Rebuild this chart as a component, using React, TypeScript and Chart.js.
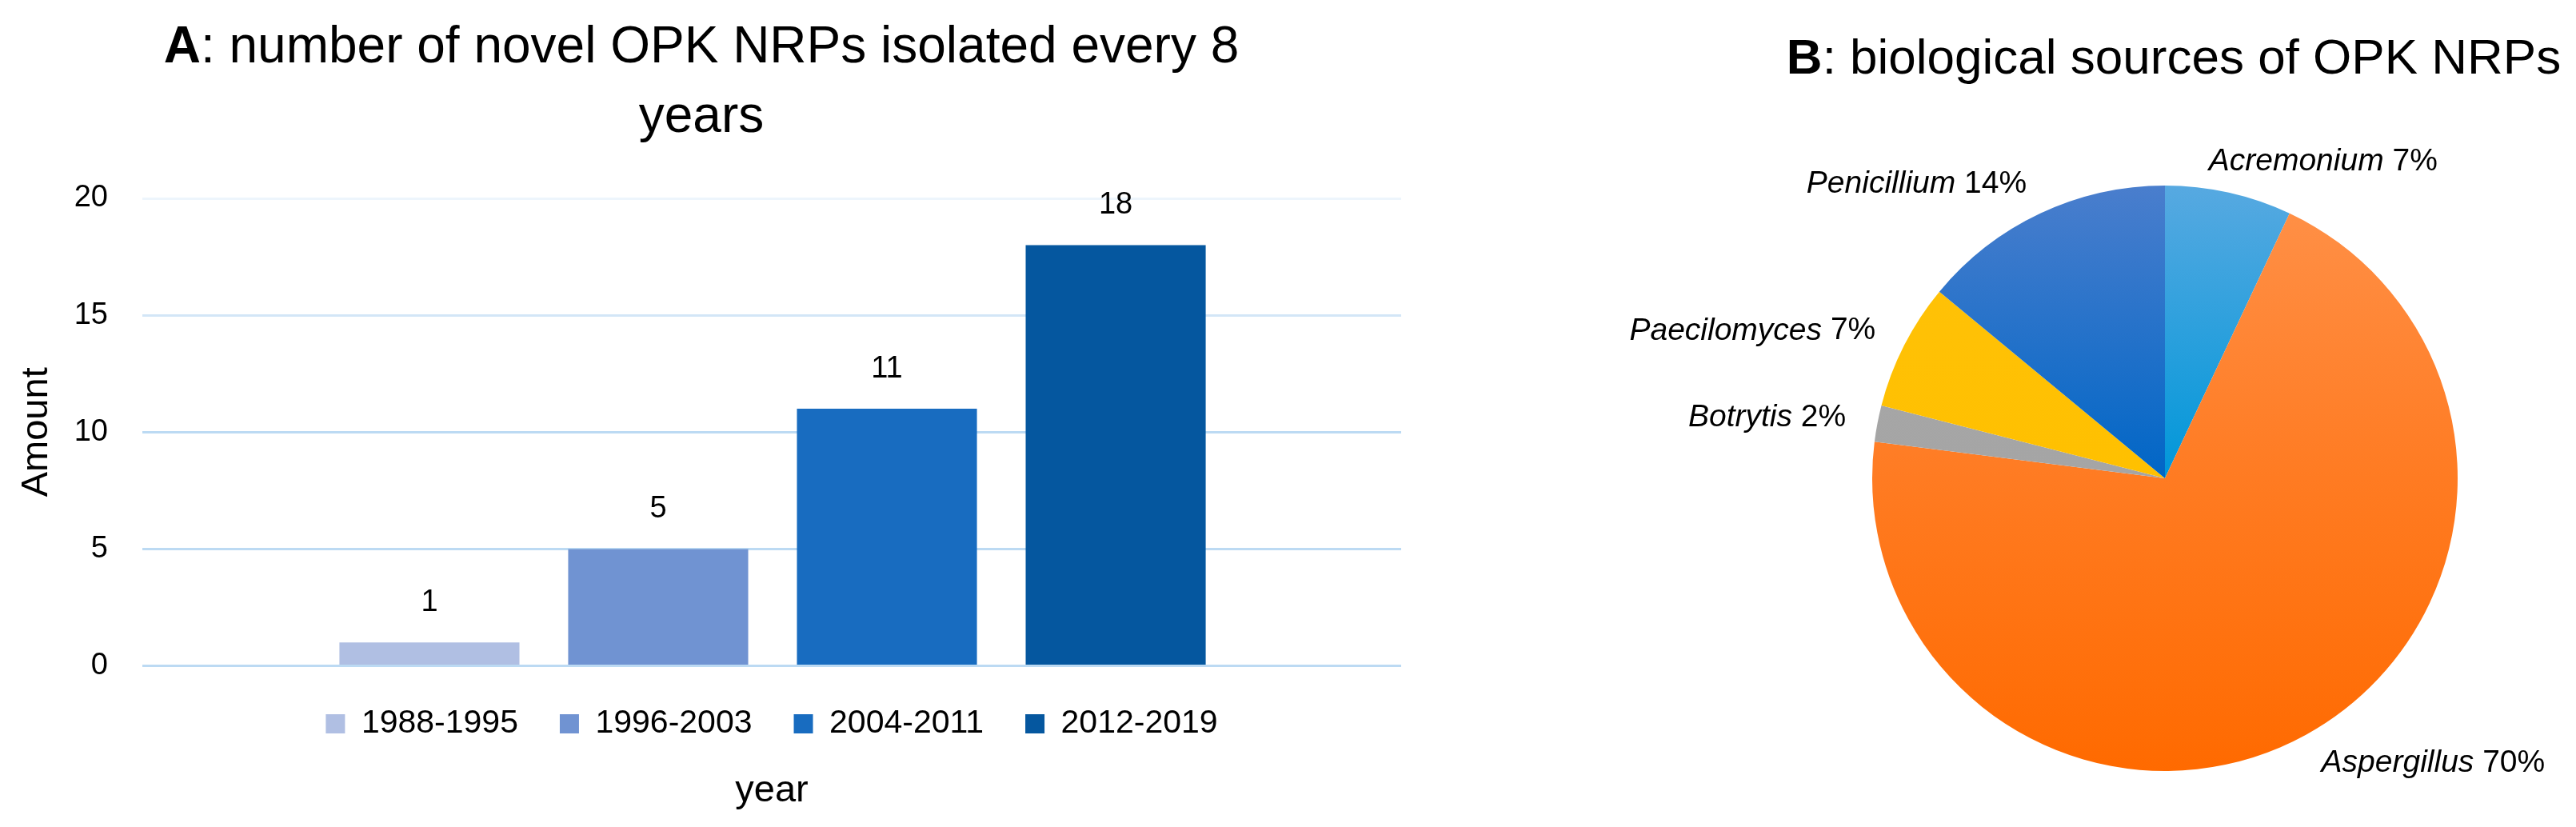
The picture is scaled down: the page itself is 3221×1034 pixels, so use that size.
import React, { useEffect, useRef } from 'react';
import { Chart, registerables } from 'chart.js';

Chart.register(...registerables);

// ---------- Panel A data ----------
const periodLabels = ['1988-1995', '1996-2003', '2004-2011', '2012-2019'];
const periodCounts = [1, 5, 11, 18];
const periodSlots = [1, 2, 3, 4];
const amountTicks = [0, 5, 10, 15, 20];
const periodColors = ['#B0BFE3', '#7093D2', '#186CC0', '#05579F'];

// ---------- Panel B data ----------
const sourceNames = ['Acremonium', 'Aspergillus', 'Botrytis', 'Paecilomyces', 'Penicillium'];
const sourcePercents = [7, 70, 2, 7, 14];
const sourceColorTop = ['#57A9E1', '#FF9149', '#A8A8A8', '#FFC20A', '#4A7ECD'];
const sourceColorMid = ['#0097D9', '#FF7B22', '#A5A5A5', '#FFC000', '#0066C6'];
const sourceColorBottom = ['#0097D9', '#FF6A00', '#A3A3A3', '#FFBE00', '#0066C6'];

// ---------- Titles ----------
type Seg = { text: string; bold?: boolean };
const titleA: Seg[][] = [
  [{ text: 'A', bold: true }, { text: ': number of novel OPK NRPs isolated every 8' }],
  [{ text: 'years' }],
];
const titleB: Seg[][] = [[{ text: 'B', bold: true }, { text: ': biological sources of OPK NRPs' }]];

const FONT = "'Liberation Sans', Arial, sans-serif";

function richTitle(lines: Seg[][], size: number, firstBaseline: number, lineGap: number, centerOn: 'canvas' | 'area', dx = 0) {
  return {
    id: 'richTitle',
    afterDraw(chart: any) {
      const { ctx, chartArea } = chart;
      const cx = (centerOn === 'area' ? (chartArea.left + chartArea.right) / 2 : chart.width / 2) + dx;
      ctx.save();
      ctx.fillStyle = '#000';
      ctx.textBaseline = 'alphabetic';
      ctx.textAlign = 'left';
      lines.forEach((segs, li) => {
        const fonts = segs.map((s) => `${s.bold ? 'bold ' : ''}${size}px ${FONT}`);
        const widths = segs.map((s, i) => {
          ctx.font = fonts[i];
          return ctx.measureText(s.text).width;
        });
        let x = cx - widths.reduce((a, b) => a + b, 0) / 2;
        const y = firstBaseline + li * lineGap;
        segs.forEach((s, i) => {
          ctx.font = fonts[i];
          ctx.fillText(s.text, x, y);
          x += widths[i];
        });
      });
      ctx.restore();
    },
  };
}

const barValueLabels = {
  id: 'barValueLabels',
  afterDatasetsDraw(chart: any) {
    const { ctx } = chart;
    ctx.save();
    ctx.font = `38px ${FONT}`;
    ctx.fillStyle = '#000';
    ctx.textAlign = 'center';
    ctx.textBaseline = 'middle';
    chart.data.datasets.forEach((ds: any, di: number) => {
      const meta = chart.getDatasetMeta(di);
      meta.data.forEach((el: any, i: number) => {
        const v = ds.data[i].y;
        const { x, y } = el.getProps(['x', 'y'], true);
        ctx.fillText(String(v), x, y - 50);
      });
    });
    ctx.restore();
  },
};

const pieLabels = {
  id: 'pieLabels',
  afterDatasetsDraw(chart: any) {
    const { ctx } = chart;
    const meta = chart.getDatasetMeta(0);
    ctx.save();
    ctx.fillStyle = '#000';
    ctx.textBaseline = 'middle';
    ctx.textAlign = 'left';
    meta.data.forEach((arc: any, i: number) => {
      const { x, y, startAngle, endAngle, outerRadius } = arc.getProps(
        ['x', 'y', 'startAngle', 'endAngle', 'outerRadius'],
        true
      );
      const mid = (startAngle + endAngle) / 2;
      const r = outerRadius + 40;
      const ax = x + Math.cos(mid) * r;
      const ay = y + Math.sin(mid) * r;
      const name = sourceNames[i];
      const pct = ' ' + chart.data.datasets[0].data[i] + '%';
      const fItal = `italic 39px ${FONT}`;
      const fReg = `39px ${FONT}`;
      ctx.font = fItal;
      const w1 = ctx.measureText(name).width;
      ctx.font = fReg;
      const w2 = ctx.measureText(pct).width;
      const c = Math.max(-1, Math.min(1, Math.cos(mid) * 3.5));
      const sx = ax - ((w1 + w2) * (1 - c)) / 2;
      ctx.font = fItal;
      ctx.fillText(name, sx, ay);
      ctx.font = fReg;
      ctx.fillText(pct, sx + w1, ay);
    });
    ctx.restore();
  },
};

export default function App() {
  const aRef = useRef<HTMLCanvasElement>(null);
  const bRef = useRef<HTMLCanvasElement>(null);

  useEffect(() => {
    const barChart = new Chart(aRef.current as HTMLCanvasElement, {
      type: 'bar',
      data: {
        datasets: periodLabels.map((label, i) => ({
          label,
          data: [{ x: periodSlots[i], y: periodCounts[i] }],
          backgroundColor: periodColors[i],
          borderWidth: 0,
          grouped: false,
          barPercentage: 0.787,
          categoryPercentage: 1,
        })),
      } as any,
      options: {
        animation: false,
        responsive: false,
        layout: { padding: { top: 248, right: 2, left: 0, bottom: 0 } },
        plugins: {
          legend: {
            position: 'bottom',
            fullSize: false,
            weight: 1,
            labels: {
              boxWidth: 24,
              boxHeight: 24,
              padding: 52,
              color: '#000',
              font: { family: FONT, size: 41 },
            },
          } as any,
          tooltip: { enabled: false },
          title: { display: false },
        },
        scales: {
          x: {
            type: 'linear',
            position: 'bottom',
            weight: 2000,
            min: -0.255,
            max: 5.248,
            offset: false,
            grid: { display: false, drawTicks: false },
            border: { display: false },
            ticks: { display: false, stepSize: 1, includeBounds: false },
            title: {
              display: true,
              text: 'year',
              color: '#000',
              font: { family: FONT, size: 47 },
              padding: { top: 25, bottom: 17 },
            },
          } as any,
          y: {
            min: 0,
            max: 20,
            afterBuildTicks(scale: any) {
              scale.ticks = amountTicks.map((v) => ({ value: v }));
            },
            afterFit(scale: any) {
              scale.width = 178;
            },
            grid: {
              color: (c: any) => {
                const v = c.tick ? c.tick.value : 0;
                return v === 20 ? '#EDF5FC' : v === 15 ? '#D3E6F7' : '#BCDAF3';
              },
              lineWidth: 3,
              drawTicks: false,
            },
            border: { display: false },
            ticks: { color: '#000', font: { family: FONT, size: 38 }, padding: 43 },
            title: {
              display: true,
              text: 'Amount',
              color: '#000',
              font: { family: FONT, size: 47 },
              padding: { top: 18, bottom: 0 },
            },
          } as any,
        },
      },
      plugins: [barValueLabels, richTitle(titleA, 64, 78, 87, 'canvas')],
    });

    const pieChart = new Chart(bRef.current as HTMLCanvasElement, {
      type: 'pie',
      data: {
        labels: sourceNames,
        datasets: [
          {
            data: sourcePercents,
            borderWidth: 0,
            backgroundColor: (c: any) => {
              const i = c.dataIndex;
              const area = c.chart.chartArea;
              if (!area || i === undefined) return sourceColorMid[i ?? 0];
              const g = c.chart.ctx.createLinearGradient(0, area.top, 0, area.bottom);
              g.addColorStop(0, sourceColorTop[i]);
              g.addColorStop(0.5, sourceColorMid[i]);
              g.addColorStop(1, sourceColorBottom[i]);
              return g;
            },
          },
        ],
      },
      options: {
        animation: false,
        responsive: false,
        layout: { padding: { top: 232, bottom: 70, left: 400, right: 7 } },
        plugins: { legend: { display: false }, tooltip: { enabled: false } },
      },
      plugins: [pieLabels, richTitle(titleB, 62, 92, 0, 'area', 11)],
    });

    return () => {
      barChart.destroy();
      pieChart.destroy();
    };
  }, []);

  return (
    <div
      style={{
        position: 'absolute',
        left: 0,
        top: 0,
        width: 3221,
        height: 1034,
        background: '#fff',
        overflow: 'hidden',
      }}
    >
      <canvas ref={aRef} width={1754} height={1034} style={{ position: 'absolute', left: 0, top: 0 }} />
      <canvas ref={bRef} width={1421} height={1034} style={{ position: 'absolute', left: 1800, top: 0 }} />
    </div>
  );
}
